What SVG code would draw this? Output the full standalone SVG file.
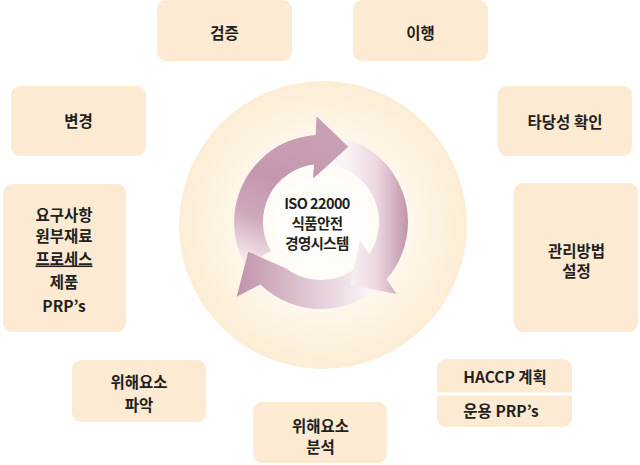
<svg xmlns="http://www.w3.org/2000/svg" width="640" height="465" viewBox="0 0 640 465">
<defs>
<style>
.box{fill:#fcebd2}
.t{font-family:"Noto Sans CJK KR","Noto Sans",sans-serif;font-size:15.5px;font-weight:600;fill:#231f20;text-anchor:middle}
.c{font-family:"Noto Sans CJK KR","Noto Sans",sans-serif;font-size:14.5px;font-weight:600;fill:#231f20;text-anchor:middle;letter-spacing:-0.6px}
</style>
<radialGradient id="glow" gradientUnits="userSpaceOnUse" cx="323" cy="225" r="144">
<stop offset="0" stop-color="#ffffff"/>
<stop offset="0.4" stop-color="#fffcf7"/>
<stop offset="0.75" stop-color="#fdf3e2"/>
<stop offset="1" stop-color="#fcedd5"/>
</radialGradient>
<linearGradient id="g1" gradientUnits="userSpaceOnUse" x1="250" y1="260" x2="300" y2="130">
<stop offset="0" stop-color="#f4e7ed"/>
<stop offset="0.3" stop-color="#cfa8bc"/>
<stop offset="0.6" stop-color="#c497ae"/>
<stop offset="1" stop-color="#c99fb5"/>
</linearGradient>
<linearGradient id="g2" gradientUnits="userSpaceOnUse" x1="345" y1="0" x2="408" y2="0">
<stop offset="0" stop-color="#faf4f7"/>
<stop offset="0.5" stop-color="#ecd8e2"/>
<stop offset="1" stop-color="#c194ab"/>
</linearGradient>
<linearGradient id="g3" gradientUnits="userSpaceOnUse" x1="236" y1="0" x2="372" y2="0">
<stop offset="0" stop-color="#c093aa"/>
<stop offset="0.45" stop-color="#dbbfcd"/>
<stop offset="1" stop-color="#fbf5f8"/>
</linearGradient>
</defs>
<rect width="640" height="465" fill="#ffffff"/>

<g id="center">
<circle cx="323" cy="225" r="144" fill="url(#glow)"/>
<path fill="url(#g1)" d="M245.7 265.5 A87 87 0 0 1 315.7 135.3 L316.7 116.7 L348.3 146.7 L313.3 178.3 L314.1 164.3 A58 58 0 0 0 270.8 251 Z"/>
<path fill="url(#g3)" d="M382.5 283.5 A87 87 0 0 1 260.4 284.4 L236.7 296.7 L248.3 251.7 L286.2 268.4 A58 58 0 0 0 362 263 Z"/>
<path fill="url(#g2)" d="M336.1 136.3 A87 87 0 0 1 386.5 279.2 L396.7 294 L350 285 L360 240.7 L369.3 254.2 A58 58 0 0 0 331.1 164.9 Z"/>
<path fill="url(#g1)" d="M265.1 155.4 A87 87 0 0 1 315.7 135.3 L316.7 116.7 L348.3 146.7 L313.3 178.3 L314.1 164.3 A58 58 0 0 0 283.7 177.6 Z"/>
<text class="c" x="317" y="209">ISO 22000</text>
<text class="c" x="317" y="229">식품안전</text>
<text class="c" x="317" y="248.5">경영시스템</text>
</g>

<g id="connectors"></g>

<g id="n-verify">
<rect class="box" x="157" y="0" width="135" height="61" rx="9"/>
<text class="t" x="224.5" y="39">검증</text>
</g>
<g id="n-implement">
<rect class="box" x="353" y="0" width="135" height="61" rx="9"/>
<text class="t" x="420.5" y="39">이행</text>
</g>
<g id="n-change">
<rect class="box" x="11" y="86" width="135" height="70" rx="9"/>
<text class="t" x="78.5" y="126.5">변경</text>
</g>
<g id="n-validate">
<rect class="box" x="498" y="86" width="134" height="70" rx="9"/>
<text class="t" x="565" y="127.5">타당성 확인</text>
</g>
<g id="n-requirements">
<rect class="box" x="3" y="184" width="123" height="148" rx="9"/>
<text class="t" x="64" y="220.5">요구사항</text>
<text class="t" x="64" y="242">원부재료</text>
<text class="t" x="64" y="264.5" text-decoration="underline">프로세스</text>
<text class="t" x="64" y="288">제품</text>
<text class="t" x="64" y="312">PRP’s</text>
</g>
<g id="n-control">
<rect class="box" x="514" y="183" width="124" height="149" rx="9"/>
<text class="t" x="576.5" y="256.5">관리방법</text>
<text class="t" x="576.5" y="277">설정</text>
</g>
<g id="n-hazard-identify">
<rect class="box" x="72" y="360" width="134" height="62" rx="9"/>
<text class="t" x="139" y="387.5">위해요소</text>
<text class="t" x="139" y="410.5">파악</text>
</g>
<g id="n-hazard-analysis">
<rect class="box" x="253" y="402" width="134" height="61" rx="9"/>
<text class="t" x="320.5" y="431.5">위해요소</text>
<text class="t" x="320.5" y="452.5">분석</text>
</g>
<g id="n-haccp">
<rect class="box" x="437" y="359" width="135" height="68" rx="9"/>
<rect x="437" y="392.5" width="135" height="3" fill="#ffffff"/>
<text class="t" x="505" y="382.5">HACCP 계획</text>
<text class="t" x="501" y="416.5">운용 PRP’s</text>
</g>
</svg>
